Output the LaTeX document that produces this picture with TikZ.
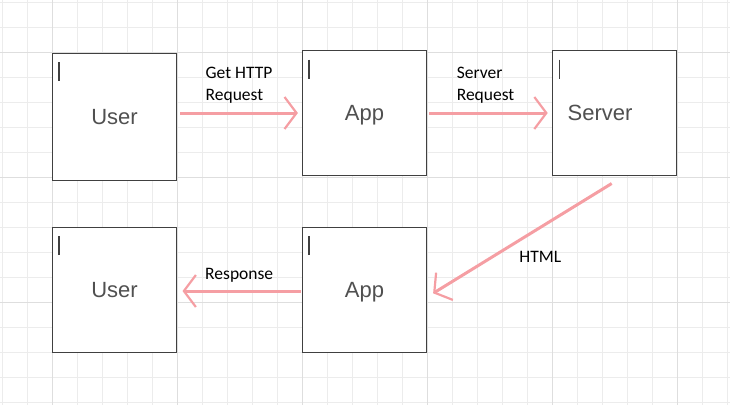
\documentclass[tikz,border=0pt]{standalone}
\usepackage{fontspec}
\setmainfont{Carlito}
\newfontfamily\boxfont{Liberation Sans}
\usetikzlibrary{arrows.meta,positioning}
\definecolor{flowpink}{RGB}{245,158,163}
\definecolor{boxgray}{RGB}{64,64,64}
\definecolor{textgray}{RGB}{80,80,80}
\definecolor{gridminor}{RGB}{236,236,236}
\definecolor{gridmajor}{RGB}{222,222,222}
\begin{document}
\begin{tikzpicture}[x=1pt, y=-1pt,
        B/.style={draw=boxgray, line width=1.2pt, fill=white, minimum width=124pt, minimum height=125pt,
          font=\boxfont\fontsize{22}{26}\selectfont, text=textgray, text height=15.8pt, text depth=0pt,
          path picture={\draw[boxgray, line width=1.1pt] ([xshift=6.5pt,yshift=-9pt]path picture bounding box.north west) -- ++(0,19);}},
        F/.style={draw=flowpink, line width=3pt, -{Straight Barb[length=12pt, width=32pt, line width=2.2pt]}},
        L/.style={font=\fontsize{17.5}{22}\selectfont, align=left, inner sep=0pt}
      ]
      \useasboundingbox (0,0) rectangle (730,405);
      % grid
      \foreach \k in {0,...,29} \draw[gridminor, line width=1pt] (2.7+25*\k,0) -- ++(0,405);
      \foreach \k in {0,...,16} \draw[gridminor, line width=1pt] (0,2.7+25*\k) -- ++(730,0);
      \foreach \k in {0,...,5} \draw[gridmajor, line width=1pt] (52.7+125*\k,0) -- ++(0,405);
      \foreach \k in {0,...,2} \draw[gridmajor, line width=1pt] (0,52.7+125*\k) -- ++(730,0);
      % boxes
      \node [B, minimum height=127pt] (user1) at (114.5,116.8) {User};
      \node [B] (app1) at (364.5,113) {App};
      \node [B, text width=94pt, align=left] (server) at (614.7,113) {Server};
      \node [B] (user2) at (114.5,289.8) {User};
      \node [B] (app2) at (364.5,289.8) {App};
      % arrows
      \draw [F] ([xshift=3pt]user1.east |- app1.west) -- ([xshift=-4pt]app1.west)
          node [L, midway, above=8pt] {Get HTTP\\Request};
      \draw [F] ([xshift=2.3pt]app1.east) -- ([xshift=-4.4pt]server.west)
          node [L, midway, above=8pt, xshift=-3pt] {Server\\Request};
      \draw [F] ([xshift=-3pt,yshift=-7.4pt]server.south) -- ([xshift=6pt,yshift=-3.5pt]app2.east)
          node [L, midway, anchor=north west, shift={(-4.5pt,-11pt)}] {HTML};
      \draw [F] ([xshift=-1pt,yshift=-1.2pt]app2.west) -- ([xshift=5.4pt,yshift=-1.2pt]user2.east)
          node [L, midway, above=7pt, xshift=-2.5pt] {Response};
    \end{tikzpicture}
\end{document}
